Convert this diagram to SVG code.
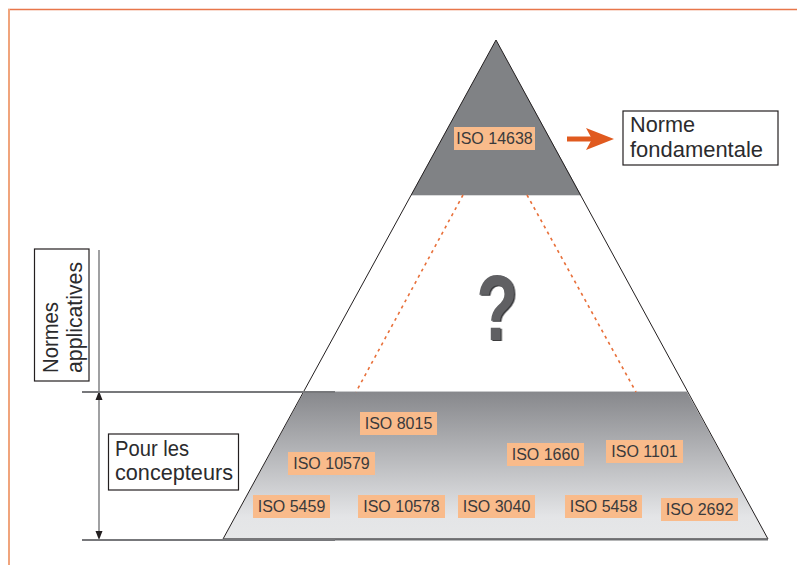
<svg xmlns="http://www.w3.org/2000/svg" width="797" height="565" viewBox="0 0 797 565">
<style>
.lbl{fill:#f9bb8b}
.lt{font-family:"Liberation Sans",Arial,sans-serif;font-size:16px;fill:#3a3a3c;text-anchor:middle}
.bt{font-family:"Liberation Sans",Arial,sans-serif;font-size:22px;fill:#2b2b2d}
.box{fill:#fff;stroke:#231f20;stroke-width:1.2}
.dash{stroke:#e8703a;stroke-width:1.6;stroke-dasharray:3 4;fill:none}
.dim{stroke:#6d6e71;stroke-width:1.3;fill:none}
.hl{stroke:#77787b;stroke-width:2;fill:none}
</style>
<defs>
<linearGradient id="band" x1="0" y1="0" x2="0" y2="1">
<stop offset="0" stop-color="#87888c"/>
<stop offset="0.85" stop-color="#e4e5e7"/>
<stop offset="1" stop-color="#e6e7e8"/>
</linearGradient>
<filter id="qs" x="-20%" y="-20%" width="140%" height="140%">
<feDropShadow dx="2" dy="1" stdDeviation="0.3" flood-color="#3a3b3d" flood-opacity="1"/>
</filter>
</defs>
<rect width="797" height="565" fill="#fff"/>
<!-- frame -->
<line x1="8" y1="9.5" x2="797" y2="9.5" stroke="#e8764a" stroke-width="1.5"/>
<line x1="9" y1="9" x2="9" y2="565" stroke="#f0a47c" stroke-width="2"/>

<g id="pyramid">
<polygon points="496,40 411,195 581,195" fill="#808285"/>
<line x1="411" y1="195.5" x2="581" y2="195.5" stroke="#d9dadb" stroke-width="1"/>
<polygon points="304,392 687,392 768,539 223,539" fill="url(#band)"/>
<line x1="304" y1="391.5" x2="687" y2="391.5" stroke="#c8c9cb" stroke-width="1"/>
<polygon points="496,40 223,539 768,539" fill="none" stroke="#231f20" stroke-width="1"/>
<line x1="223" y1="539.5" x2="768" y2="539.5" stroke="#6d6e71" stroke-width="2"/>
</g>

<g id="question">
<text transform="translate(497,340) scale(0.74,1)" font-family="Liberation Sans,Arial,sans-serif" font-weight="bold" font-size="92" fill="#606164" text-anchor="middle" filter="url(#qs)">?</text>
</g>

<g id="connectors">
<line class="dash" x1="463" y1="195" x2="356" y2="392"/>
<line class="dash" x1="527" y1="195" x2="636" y2="392"/>
<line x1="567" y1="139" x2="593" y2="139" stroke="#e05a1f" stroke-width="5"/>
<polygon points="586,128 614,139 586,150 592,139" fill="#e05a1f"/>
<line class="dim" x1="99" y1="250" x2="99" y2="536"/>
<polygon points="99,391 95.5,400 102.5,400" fill="#231f20"/>
<polygon points="99,540 95.5,531 102.5,531" fill="#231f20"/>
<line class="hl" x1="82" y1="392" x2="335" y2="392"/>
<line class="hl" x1="82" y1="540" x2="335" y2="540"/>
</g>

<g id="n-iso14638"><rect class="lbl" x="454" y="127" width="81" height="23"/><text class="lt" x="494.5" y="144">ISO 14638</text></g>
<g id="n-iso8015"><rect class="lbl" x="360" y="412" width="77" height="23"/><text class="lt" x="398.5" y="429">ISO 8015</text></g>
<g id="n-iso10579"><rect class="lbl" x="288" y="452" width="87" height="23"/><text class="lt" x="331.5" y="469">ISO 10579</text></g>
<g id="n-iso1660"><rect class="lbl" x="507" y="443" width="77" height="23"/><text class="lt" x="545.5" y="460">ISO 1660</text></g>
<g id="n-iso1101"><rect class="lbl" x="606" y="440" width="77" height="23"/><text class="lt" x="644.5" y="457">ISO 1101</text></g>
<g id="n-iso5459"><rect class="lbl" x="253" y="495" width="77" height="23"/><text class="lt" x="291.5" y="512">ISO 5459</text></g>
<g id="n-iso10578"><rect class="lbl" x="358" y="495" width="87" height="23"/><text class="lt" x="401.5" y="512">ISO 10578</text></g>
<g id="n-iso3040"><rect class="lbl" x="458" y="495" width="77" height="23"/><text class="lt" x="496.5" y="512">ISO 3040</text></g>
<g id="n-iso5458"><rect class="lbl" x="565" y="495" width="77" height="23"/><text class="lt" x="603.5" y="512">ISO 5458</text></g>
<g id="n-iso2692"><rect class="lbl" x="661" y="498" width="77" height="23"/><text class="lt" x="699.5" y="515">ISO 2692</text></g>

<g id="n-norme">
<rect class="box" x="623" y="111" width="155" height="54"/>
<text class="bt" x="630" y="132" textLength="65" lengthAdjust="spacingAndGlyphs">Norme</text>
<text class="bt" x="630" y="157" textLength="133" lengthAdjust="spacingAndGlyphs">fondamentale</text>
</g>

<g id="n-applicatives">
<rect class="box" x="34.5" y="249" width="54.5" height="132"/>
<text class="bt" transform="translate(58,373) rotate(-90)" x="0" y="0" textLength="71" lengthAdjust="spacingAndGlyphs">Normes</text>
<text class="bt" transform="translate(82,373) rotate(-90)" x="0" y="0" textLength="111" lengthAdjust="spacingAndGlyphs">applicatives</text>
</g>

<g id="n-concepteurs">
<rect class="box" x="108.5" y="434" width="130" height="56"/>
<text class="bt" x="115" y="456" textLength="74" lengthAdjust="spacingAndGlyphs">Pour les</text>
<text class="bt" x="115" y="480" textLength="118" lengthAdjust="spacingAndGlyphs">concepteurs</text>
</g>
</svg>
